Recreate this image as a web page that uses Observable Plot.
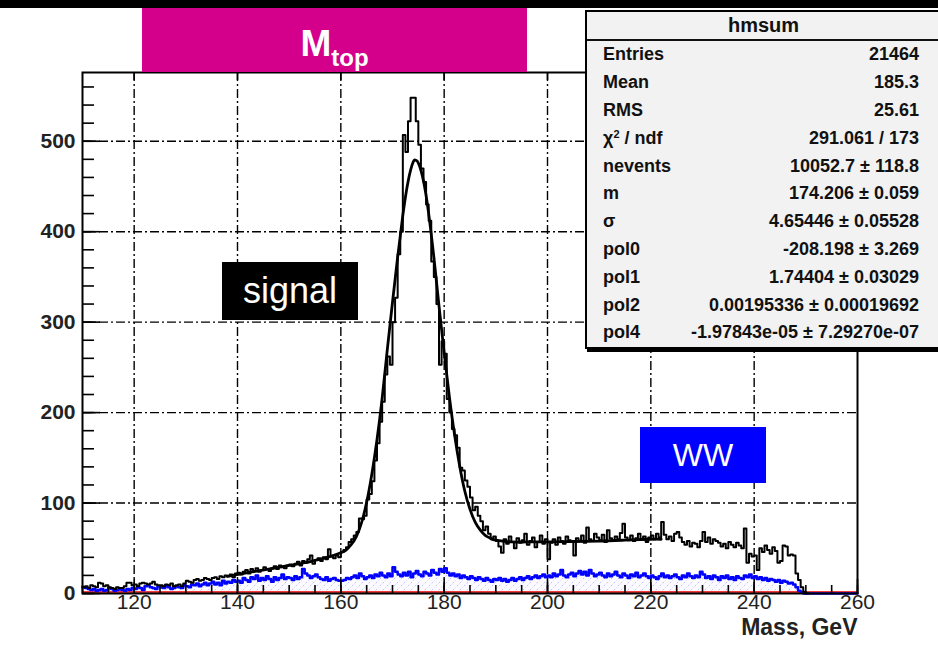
<!DOCTYPE html>
<html>
<head>
<meta charset="utf-8">
<script src="https://cdn.jsdelivr.net/npm/d3@7"></script>
<script src="https://cdn.jsdelivr.net/npm/@observablehq/plot@0.6"></script>
<style>
html,body{margin:0;padding:0;background:#fff;}
body{width:938px;height:650px;position:relative;overflow:hidden;font-family:"Liberation Sans",Arial,sans-serif;}
#topbar{position:absolute;left:0;top:0;width:938px;height:8px;background:#000;}
#chart{position:absolute;left:0;top:0;}
#title{position:absolute;left:142px;top:8px;width:385px;height:64px;background:#d4008c;color:#fff;font-weight:bold;text-align:center;}
#title .main{position:absolute;left:0;right:0;top:17px;font-size:37px;line-height:37px;}
#title sub{font-size:24px;vertical-align:-10px;line-height:0;}
.lbl{position:absolute;color:#fff;display:flex;align-items:center;justify-content:center;}
#signal{left:222px;top:262px;width:136px;height:58px;background:#000;font-size:36px;}
#ww{left:640px;top:427px;width:126px;height:56px;background:#0000ff;font-size:32px;}
#stats{position:absolute;left:585px;top:10px;width:380px;height:335px;background:#f2f2f2;border:2px solid #000;box-shadow:2px 3px 0 #000;font-weight:bold;font-size:18px;color:#111;}
#stats .hdr{position:absolute;left:0;width:353px;top:0;height:27px;border-bottom:2px solid #111;text-align:center;font-size:20px;line-height:27px;}
#stats .row{position:absolute;left:16px;width:316px;height:27.8px;display:flex;justify-content:space-between;align-items:center;}
#stats sup{font-size:11px;vertical-align:6px;line-height:0;}
</style>
</head>
<body>
<div id="topbar"></div>
<div id="chart"></div>
<div id="title"><div class="main">M<sub>top</sub></div></div>
<div class="lbl" id="signal">signal</div>
<div class="lbl" id="ww">WW</div>
<div id="stats"></div>
<script>
// ---- data (0.5 GeV bins starting at 110 GeV) ----
const binStart = 110;
const binWidth = 0.5;
const totalCounts = [
  7, 8, 6, 9, 8, 7, 12, 11, 8, 9, 7, 6, 5, 7, 6, 6, 8, 12, 12, 9,
  10, 8, 11, 12, 11, 10, 11, 13, 10, 9, 9, 8, 10, 9, 11, 8, 9, 10, 8, 11,
  14, 13, 12, 15, 16, 14, 15, 17, 16, 15, 17, 18, 16, 19, 18, 20, 19, 21, 18, 22,
  23, 21, 24, 26, 22, 27, 25, 28, 24, 26, 29, 27, 25, 28, 30, 27, 31, 29, 28, 31,
  32, 30, 33, 35, 31, 36, 34, 38, 42, 33, 37, 39, 36, 40, 38, 49, 41, 39, 42, 40,
  46, 48, 51, 57, 60, 64, 68, 83, 82, 86, 104, 110, 124, 147, 166, 190, 212, 242, 262, 253,
  300, 327, 375, 400, 507, 488, 522, 548, 548, 522, 496, 470, 455, 430, 412, 367, 350, 320, 253, 279,
  265, 215, 200, 182, 175, 161, 139, 136, 125, 118, 106, 92, 96, 86, 80, 70, 74, 66, 60, 63,
  58, 52, 45, 60, 55, 63, 57, 50, 61, 56, 59, 66, 54, 58, 62, 51, 57, 64, 55, 60,
  38, 56, 60, 54, 62, 58, 55, 63, 59, 57, 42, 61, 58, 64, 56, 73, 60, 58, 66, 62,
  59, 65, 57, 70, 61, 58, 63, 60, 67, 77, 62, 59, 64, 58, 61, 66, 60, 63, 57, 62,
  64, 60, 66, 62, 79, 65, 60, 63, 58, 66, 68, 62, 57, 54, 58, 52, 56, 55, 51, 58,
  68, 57, 62, 55, 60, 58, 56, 52, 55, 50, 57, 54, 51, 56, 53, 50, 72, 34, 44, 41,
  42, 26, 50, 46, 53, 48, 44, 51, 47, 34, 36, 53, 52, 42, 43, 42, 22, 15, 7, 2
];
const wwCounts = [
  7, 6, 5, 4, 5, 3, 4, 5, 3, 4, 6, 5, 3, 4, 5, 4, 3, 5, 4, 6,
  5, 7, 6, 4, 8, 9, 7, 6, 5, 8, 7, 6, 9, 7, 5, 6, 8, 7, 6, 9,
  8, 7, 10, 9, 11, 8, 10, 12, 9, 11, 13, 10, 12, 9, 14, 11, 13, 12, 15, 13,
  14, 12, 17, 15, 13, 18, 16, 20, 14, 17, 15, 19, 16, 13, 18, 15, 17, 21, 16, 18,
  17, 15, 19, 16, 18, 27, 22, 20, 17, 19, 21, 18, 16, 15, 18, 14, 16, 17, 15, 14,
  14, 15, 17, 16, 18, 20, 17, 22, 19, 16, 18, 20, 17, 21, 19, 23, 20, 18, 22, 19,
  29, 24, 21, 19, 23, 20, 24, 18, 22, 25, 21, 19, 24, 22, 20, 26, 23, 21, 27, 24,
  28, 23, 20, 22, 19, 21, 17, 20, 18, 16, 19, 17, 15, 18, 16, 14, 17, 15, 13, 16,
  15, 17, 14, 16, 13, 15, 17, 14, 16, 18, 15, 17, 19, 16, 18, 20, 17, 19, 21, 18,
  20, 18, 22, 19, 21, 26, 20, 18, 21, 23, 19, 22, 25, 21, 24, 20, 26, 22, 19, 21,
  23, 20, 18, 22, 19, 21, 24, 20, 18, 22, 20, 17, 21, 19, 23, 18, 20, 22, 19, 17,
  20, 18, 16, 19, 22, 18, 20, 17, 19, 21, 18, 16, 20, 18, 22, 19, 17, 20, 18, 24,
  21, 17, 19, 16, 20, 18, 15, 19, 17, 20, 16, 18, 15, 19, 17, 16, 20, 18, 21, 17,
  19, 16, 18, 15, 17, 14, 16, 15, 13, 15, 12, 14, 13, 11, 12, 10, 7, 3, 1, 0
];
const fitMass  = [138, 142, 146, 150, 153, 156, 158, 160, 161, 162, 163, 164, 165, 166, 167, 168, 169, 170, 171, 172, 173, 174, 174.5, 175, 176, 177, 178, 179, 180, 181, 182, 183, 184, 185, 186, 187, 188, 189, 190, 193, 196, 200, 205, 210, 215, 220, 222];
const fitValue = [19, 23, 27, 31, 34, 38, 41, 45, 48, 54, 63, 78, 101, 132, 170, 216, 270, 322, 372, 418, 455, 477, 479, 476, 456, 420, 372, 318, 266, 218, 176, 141, 113, 93, 79, 70, 64, 61, 59, 57, 57, 57, 57.5, 58, 59, 60, 60];
const xTickLabels = [120, 140, 160, 180, 200, 220, 240, 260];
const yTickLabels = [0, 100, 200, 300, 400, 500];
const xGridValues = [120, 140, 160, 180, 200, 220, 240];
const yGridValues = [100, 200, 300, 400, 500];
const statNames  = ["Entries", "Mean", "RMS", "χ<sup>2</sup> / ndf", "nevents", "m", "σ", "pol0", "pol1", "pol2", "pol4"];
const statValues = ["21464", "185.3", "25.61", "291.061 / 173", "10052.7 ± 118.8", "174.206 ± 0.059", "4.65446 ± 0.05528", "-208.198 ± 3.269", "1.74404 ± 0.03029", "0.00195336 ± 0.00019692", "-1.97843e-05 ± 7.29270e-07"];
const statsTitle = "hmsum";
const axisTitle = "Mass, GeV";

// ---- build tables ----
const totalData = totalCounts.map((n, i) => ({m: binStart + i * binWidth, n}));
totalData.push({m: binStart + totalCounts.length * binWidth, n: 0});
totalData.push({m: binStart + (totalCounts.length + 1) * binWidth, n: 0});
const wwData = wwCounts.map((n, i) => ({m: binStart + i * binWidth, n}));
wwData.push({m: binStart + wwCounts.length * binWidth, n: 0});
wwData.push({m: 260, n: 0});
const fitData = fitMass.map((m, i) => ({m, n: fitValue[i]}));
const xMinor = d3.range(110, 261, 5);
const yMinor = d3.range(0, 576, 20);

const W = 938, H = 650, mL = 82, mR = 81, mT = 72, mB = 57;
const fw = W - mL - mR, fh = H - mT - mB;
const dash = "9,3,2,3";

const chart = Plot.plot({
  width: W, height: H,
  marginLeft: mL, marginRight: mR, marginTop: mT, marginBottom: mB,
  x: {domain: [110, 260], axis: null},
  y: {domain: [0, 576], axis: null},
  style: {fontFamily: "'Liberation Sans', Arial, sans-serif", background: "transparent", overflow: "visible"},
  marks: [
    Plot.areaY(wwData, {x: "m", y: "n", curve: "step-after", fill: "url(#hatch)"}),
    Plot.ruleY([0], {stroke: "#f23a3a", strokeWidth: 2, dy: -1.5}),
    Plot.ruleX(xGridValues, {stroke: "#000", strokeWidth: 1.4, strokeDasharray: dash}),
    Plot.ruleY(yGridValues, {stroke: "#000", strokeWidth: 1.4, strokeDasharray: dash}),
    Plot.line(wwData, {x: "m", y: "n", curve: "step-after", stroke: "#0000ff", strokeWidth: 2.5}),
    Plot.line(totalData, {x: "m", y: "n", curve: "step-after", stroke: "#000", strokeWidth: 2}),
    Plot.line(fitData, {x: "m", y: "n", curve: "natural", stroke: "#000", strokeWidth: 2.8}),
    Plot.frame({stroke: "#000", strokeWidth: 2}),
    Plot.tickY(yMinor, {y: d => d, insetRight: fw - 12, stroke: "#000", strokeWidth: 1.6}),
    Plot.tickY(yTickLabels, {y: d => d, insetRight: fw - 18, stroke: "#000", strokeWidth: 1.6}),
    Plot.tickX(xMinor, {x: d => d, insetTop: fh - 8, stroke: "#000", strokeWidth: 1.6}),
    Plot.tickX(xTickLabels, {x: d => d, insetTop: fh - 14, stroke: "#000", strokeWidth: 1.6}),
    Plot.tickX(xTickLabels, {x: d => d, insetBottom: fh - 8, stroke: "#000", strokeWidth: 1.6}),
    Plot.text(yTickLabels, {y: d => d, text: d => String(d), frameAnchor: "left", dx: -7, textAnchor: "end", fontSize: 21, fontWeight: "bold", fill: "#222"}),
    Plot.text(xTickLabels, {x: d => d, text: d => String(d), frameAnchor: "bottom", dy: 15, fontSize: 21, fill: "#222"}),
    Plot.text([axisTitle], {text: d => d, frameAnchor: "bottom-right", dy: 41, textAnchor: "end", fontSize: 23, fontWeight: "bold", fill: "#222"})
  ]
});

const ns = "http://www.w3.org/2000/svg";
const defs = document.createElementNS(ns, "defs");
defs.innerHTML = '<pattern id="hatch" width="7" height="7" patternUnits="userSpaceOnUse"><rect width="7" height="7" fill="#fbfaff"/><path d="M-1,8 L8,-1" stroke="#b9b9ff" stroke-width="0.9" stroke-dasharray="2,2"/></pattern>';
chart.insertBefore(defs, chart.firstChild);
document.getElementById("chart").appendChild(chart);

// stats box
const stats = document.getElementById("stats");
const hdr = document.createElement("div");
hdr.className = "hdr";
hdr.textContent = statsTitle;
stats.appendChild(hdr);
statNames.forEach((name, i) => {
  const row = document.createElement("div");
  row.className = "row";
  row.style.top = (29 + i * 27.8) + "px";
  row.innerHTML = `<span>${name}</span><span>${statValues[i]}</span>`;
  stats.appendChild(row);
});
</script>
</body>
</html>
